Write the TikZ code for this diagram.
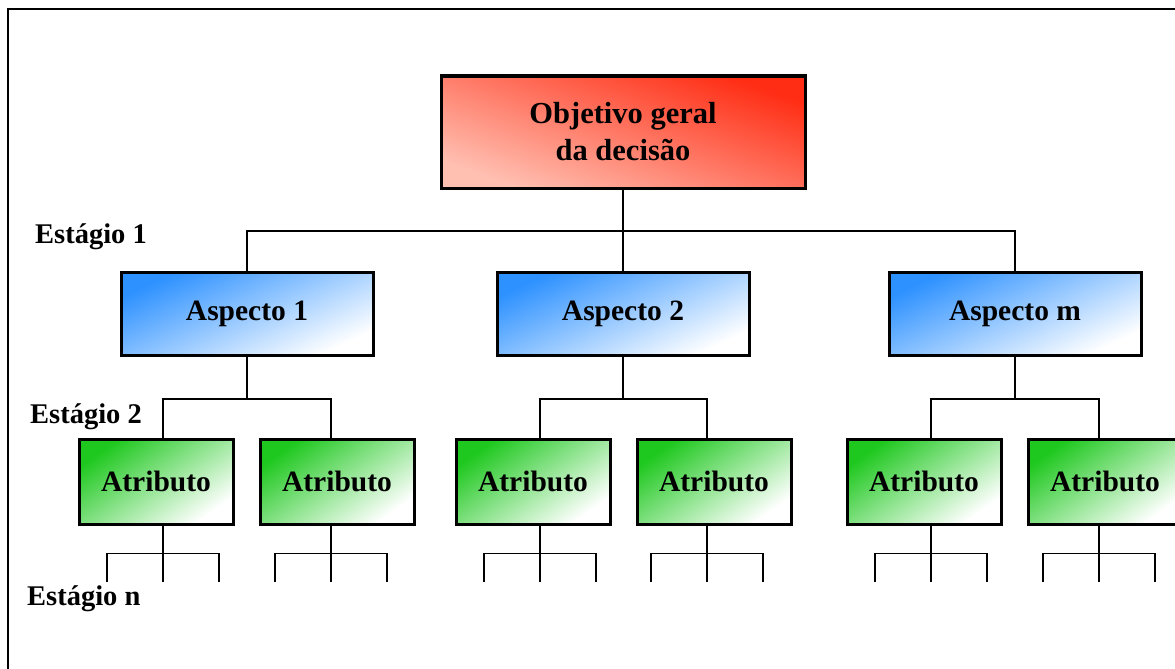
\documentclass[tikz,border=0pt]{standalone}
\usepackage{fontspec}
\setmainfont{Liberation Serif}
\definecolor{objdark}{RGB}{255,45,20}
\definecolor{objlight}{RGB}{255,192,178}
\definecolor{aspdark}{RGB}{45,145,255}
\definecolor{atrdark}{RGB}{30,200,30}
\begin{document}
\begin{tikzpicture}[x=1pt, y=-1pt,
        box/.style={draw, line width=3pt, inner sep=0pt, align=center,
            font=\bfseries\fontsize{29.5}{37}\selectfont},
        objbox/.style={box, minimum width=364pt, minimum height=112pt,
            font=\bfseries\fontsize{30.5}{37}\selectfont,
            left color=objlight, right color=objdark, shading angle=160},
        aspbox/.style={box, minimum width=252pt, minimum height=83pt,
            left color=aspdark, right color=white, shading angle=25},
        atrbox/.style={box, minimum width=154pt, minimum height=85pt,
            left color=atrdark, right color=white, shading angle=35},
        stage/.style={inner sep=0pt, font=\bfseries\fontsize{28.5}{34}\selectfont},
        link/.style={line width=2pt},
        twig/.style={line width=1.3pt}]
    \useasboundingbox (0,0) rectangle (1175,669);
    \clip (0,0) rectangle (1175,669);
    % moldura
    \draw[line width=2.5pt] (8,700) -- (8,9) -- (1200,9);

    \node[objbox] (obj) at (623,132) {Objetivo geral\\da decisão};

    \node[aspbox] (asp1) at (247,313.5) {Aspecto 1};
    \node[aspbox] (asp2) at (623,313.5) {Aspecto 2};
    \node[aspbox] (aspm) at (1015,313.5) {Aspecto m};

    \node[atrbox] (atr11) at (156,481.5) {Atributo};
    \node[atrbox] (atr12) at (337,481.5) {Atributo};
    \node[atrbox] (atr21) at (533,481.5) {Atributo};
    \node[atrbox] (atr22) at (714,481.5) {Atributo};
    \node[atrbox] (atrm1) at (924,481.5) {Atributo};
    \node[atrbox] (atrm2) at (1105,481.5) {Atributo};

    \node[stage, anchor=base west] (st1) at (35,243) {Estágio 1};
    \node[stage, anchor=base west] (st2) at (30,423) {Estágio 2};
    \node[stage, anchor=base west] (stn) at (27,605) {Estágio n};

    % estagio 1
    \coordinate (bus1) at (623,231);
    \draw[link] (obj) -- (asp2);
    \draw[link] (asp1.north) |- (bus1) -| (aspm.north);

    % estagio 2
    \draw[link] (asp1.south) -- ++(0,42) coordinate (b1);
    \draw[link] ([xshift=7pt]atr11.north) |- (b1) -| ([xshift=-6pt]atr12.north);
    \draw[link] (asp2.south) -- ++(0,42) coordinate (b2);
    \draw[link] ([xshift=7pt]atr21.north) |- (b2) -| ([xshift=-7pt]atr22.north);
    \draw[link] (aspm.south) -- ++(0,42) coordinate (bm);
    \draw[link] ([xshift=7pt]atrm1.north) |- (bm) -| ([xshift=-6pt]atrm2.north);

    % estagio n
    \foreach \a/\dx in {atr11/7, atr12/-6, atr21/7, atr22/-7, atrm1/7, atrm2/-6} {
        \draw[twig] ([xshift=\dx pt]\a.south) -- ++(0,56);
        \draw[twig] ([xshift=\dx pt]\a.south) ++(-56,56) -- ++(0,-28) -- ++(112,0) -- ++(0,28);
    }
\end{tikzpicture}
\end{document}
